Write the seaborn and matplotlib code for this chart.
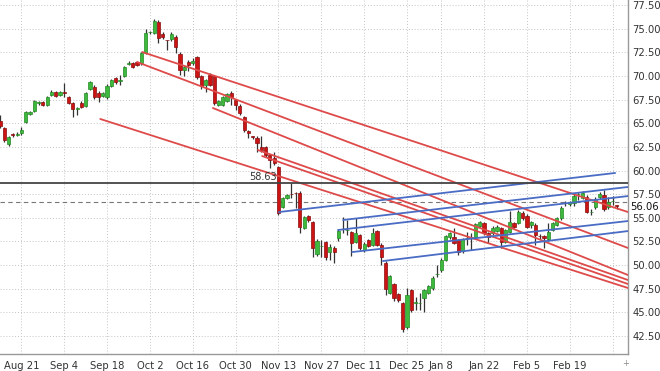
import matplotlib
matplotlib.use("Agg")
import matplotlib.pyplot as plt
import seaborn as sns
import numpy as np
import pandas as pd

# daily candles, first one is 5 trading days before Aug 21
opens = [65.23, 64.49, 62.80, 63.80, 63.80, 63.96, 65.13, 65.97, 66.29, 67.10,
         67.24, 66.93, 67.98, 68.30, 67.98, 68.25, 67.77, 67.14, 66.50, 67.14,
         66.82, 68.62, 68.83, 68.20, 67.88, 67.77, 68.94, 69.78, 69.50, 70.00,
         71.30, 71.36, 71.47, 71.36, 72.42, 74.60, 74.54, 75.70, 74.43, 73.80,
         73.90, 74.12, 72.32, 70.63, 71.50, 71.36, 72.00, 69.99, 69.04, 70.10,
         69.99, 66.93, 66.93, 67.35, 68.20, 67.45, 66.82, 65.66, 64.18, 63.60,
         63.44, 62.49, 62.49, 61.64, 61.32, 60.37, 56.14, 57.09, 57.55, 57.62,
         57.62, 53.92, 55.19, 54.56, 51.20, 52.00, 52.44, 51.38, 51.81, 52.86,
         53.80, 53.70, 53.50, 52.44, 53.18, 51.59, 52.65, 52.12, 53.60, 52.12,
         50.22, 47.05, 48.00, 46.94, 45.99, 43.45, 47.37, 45.99, 45.98, 46.52,
         47.05, 47.58, 49.05, 49.48, 50.54, 52.97, 52.97, 52.65, 51.49, 52.85,
         52.95, 52.97, 54.13, 54.45, 53.39, 53.39, 53.60, 53.92, 52.44, 53.50,
         54.45, 54.45, 55.51, 55.19, 54.24, 54.24, 53.10, 53.07, 52.76, 53.71,
         54.24, 54.98, 56.54, 56.46, 56.56, 57.50, 57.09, 57.20, 55.60, 56.14,
         57.20, 57.41, 56.14, 56.75, 56.35]
highs = [65.87, 64.60, 63.70, 64.00, 64.10, 64.60, 66.30, 66.30, 67.50, 67.40,
         67.40, 67.90, 68.50, 68.40, 68.40, 69.25, 67.90, 67.20, 66.70, 67.30,
         68.30, 69.50, 69.00, 68.40, 68.30, 69.10, 69.70, 69.90, 70.10, 71.10,
         71.60, 71.50, 71.60, 72.50, 74.96, 74.80, 76.02, 75.90, 74.60, 73.85,
         74.60, 74.30, 72.50, 71.10, 71.68, 71.90, 72.10, 70.10, 69.70, 70.30,
         70.10, 67.50, 67.90, 68.20, 68.40, 67.60, 67.00, 65.80, 64.30, 63.70,
         63.60, 63.65, 62.60, 61.80, 61.96, 60.50, 57.20, 57.50, 58.68, 57.73,
         57.80, 55.20, 55.30, 54.70, 52.80, 52.65, 52.60, 52.20, 52.00, 53.80,
         55.08, 54.77, 53.60, 54.98, 53.30, 52.40, 52.80, 53.92, 53.70, 52.30,
         50.40, 49.00, 48.10, 47.10, 46.10, 47.58, 47.50, 46.63, 47.05, 47.50,
         47.90, 48.80, 50.01, 50.70, 53.20, 53.50, 53.92, 52.80, 52.90, 53.50,
         53.39, 54.50, 54.70, 54.60, 53.50, 54.10, 54.20, 54.00, 53.80, 55.72,
         54.60, 55.80, 55.70, 55.40, 54.70, 54.40, 53.30, 53.20, 54.45, 54.60,
         55.10, 56.20, 56.80, 56.80, 57.50, 57.73, 57.80, 57.40, 55.90, 57.20,
         57.70, 57.94, 57.20, 57.30, 56.40]
lows = [64.49, 63.01, 62.60, 63.50, 63.60, 63.80, 65.00, 65.90, 66.20, 66.90,
        66.80, 66.80, 67.90, 67.80, 67.90, 67.77, 67.00, 65.66, 65.90, 66.60,
        66.70, 68.50, 67.60, 67.24, 67.80, 67.60, 68.80, 69.20, 69.04, 69.90,
        71.20, 70.80, 71.00, 71.20, 72.30, 74.40, 74.40, 73.48, 73.90, 72.74,
        73.70, 72.42, 70.10, 70.00, 70.52, 71.20, 69.70, 68.60, 68.30, 68.90,
        66.90, 66.80, 66.80, 67.20, 66.93, 66.40, 65.90, 64.10, 63.40, 63.30,
        61.96, 61.96, 61.40, 60.26, 60.60, 55.30, 56.00, 57.00, 57.09, 56.03,
        53.39, 53.80, 54.60, 50.85, 51.00, 50.85, 50.54, 50.54, 50.22, 52.60,
        53.39, 53.18, 50.96, 52.30, 51.60, 51.40, 51.90, 52.00, 52.00, 50.01,
        46.84, 46.90, 46.20, 46.10, 42.92, 43.20, 45.00, 45.25, 45.25, 45.04,
        46.90, 47.40, 48.74, 49.30, 50.40, 52.80, 52.20, 51.07, 51.30, 52.12,
        51.59, 52.80, 54.00, 53.20, 52.33, 53.20, 53.50, 51.81, 52.30, 53.40,
        53.90, 54.30, 54.80, 53.90, 53.92, 52.12, 52.80, 51.81, 52.60, 53.60,
        54.10, 54.80, 56.30, 56.30, 56.20, 56.88, 57.00, 55.50, 55.30, 55.90,
        57.00, 55.70, 55.90, 56.40, 55.90]
closes = [64.71, 63.23, 63.54, 63.75, 63.90, 64.28, 66.19, 66.19, 67.35, 67.20,
          66.93, 67.77, 68.30, 67.88, 68.30, 68.15, 67.14, 66.50, 66.55, 66.72,
          68.20, 69.36, 67.77, 67.80, 68.20, 68.94, 69.57, 69.36, 69.60, 70.94,
          71.36, 70.94, 71.16, 72.42, 74.54, 74.65, 75.81, 74.01, 74.12, 73.75,
          74.43, 73.06, 70.63, 70.94, 71.20, 71.58, 69.89, 68.94, 69.57, 69.04,
          67.14, 67.35, 67.77, 68.09, 67.77, 66.93, 66.08, 64.28, 63.96, 63.55,
          62.91, 62.17, 61.64, 61.11, 60.79, 55.51, 57.09, 57.41, 57.50, 57.60,
          54.03, 55.08, 54.77, 51.81, 52.50, 52.02, 50.85, 51.91, 51.38, 53.60,
          53.82, 53.71, 52.33, 53.39, 51.81, 52.23, 52.02, 53.39, 52.12, 50.85,
          47.47, 48.84, 46.52, 46.31, 43.24, 46.84, 45.25, 46.00, 46.00, 47.37,
          47.79, 48.63, 49.10, 50.54, 53.07, 53.39, 52.33, 51.38, 52.76, 52.86,
          52.97, 54.34, 54.56, 53.39, 52.97, 53.92, 54.03, 52.44, 53.71, 54.56,
          54.03, 55.61, 54.98, 54.03, 54.56, 53.18, 53.07, 52.86, 53.50, 54.45,
          54.98, 56.04, 56.56, 56.67, 57.30, 57.51, 57.62, 55.61, 55.62, 56.98,
          57.52, 55.93, 56.67, 56.77, 56.25]
first_day = -5

date_labels = ["Aug 21", "Sep 4", "Sep 18", "Oct 2", "Oct 16", "Oct 30", "Nov 13",
               "Nov 27", "Dec 11", "Dec 25", "Jan 8", "Jan 22", "Feb 5", "Feb 19", ""]
date_days = [0, 10, 20, 30, 40, 50, 60, 70, 80, 90, 98, 108, 118, 128, 138]

# trend lines: start day, start price, end day, end price
red_lines = [
    (28.2, 72.53, 141.6, 55.61),
    (27.0, 71.47, 141.6, 51.81),
    (44.7, 66.61, 141.6, 48.95),
    (55.2, 62.17, 141.6, 48.42),
    (56.2, 61.53, 141.6, 48.00),
    (18.4, 65.45, 141.6, 47.58),
]
blue_lines = [
    (60.1, 55.61, 138.6, 59.74),
    (75.1, 54.77, 141.6, 58.26),
    (73.9, 53.71, 141.6, 57.30),
    (77.2, 51.38, 141.6, 54.66),
    (84.4, 50.43, 141.6, 53.60),
]
level_line = 58.72
level_text = "58.63"
last_line = 56.64
last_text = "56.06"

sns.set_style("white")
plt.rcParams["font.family"] = ["DejaVu Sans"]

fig = plt.figure(figsize=(6.6, 3.71), dpi=100)
ax = fig.add_axes([0, 0.0458, 0.9515, 0.9542])

df = pd.DataFrame({"open": opens, "high": highs, "low": lows, "close": closes})
df["day"] = np.arange(len(df)) + first_day
up = df["close"] >= df["open"]

# wicks
ax.vlines(df["day"], df["low"], df["high"], color="#333333", lw=0.9, zorder=3)
# bodies
body_lo = np.minimum(df["open"], df["close"])
body_h = np.maximum((df["close"] - df["open"]).abs(), 0.06)
ax.bar(df["day"][up], body_h[up], bottom=body_lo[up], width=0.75,
       color="#3dba3d", edgecolor="#238a23", lw=0.5, zorder=4)
ax.bar(df["day"][~up], body_h[~up], bottom=body_lo[~up], width=0.75,
       color="#cc1414", edgecolor="#8a0c0c", lw=0.5, zorder=4)

# trend lines through seaborn
rows = []
for i, (x0, y0, x1, y1) in enumerate(red_lines):
    rows += [("r%d" % i, "red", x0, y0), ("r%d" % i, "red", x1, y1)]
for i, (x0, y0, x1, y1) in enumerate(blue_lines):
    rows += [("b%d" % i, "blue", x0, y0), ("b%d" % i, "blue", x1, y1)]
lines = pd.DataFrame(rows, columns=["line", "kind", "day", "price"])
sns.lineplot(data=lines, x="day", y="price", units="line", hue="kind",
             estimator=None, sort=False, legend=False, lw=1.3, zorder=5,
             palette={"red": "#de4a4a", "blue": "#4a6cc4"}, ax=ax)

ax.axhline(level_line, color="#444444", lw=1.3, zorder=6)
ax.text(59.6, level_line + 0.1, level_text, ha="right", va="bottom",
        fontsize=7, color="#333333", zorder=6)
ax.axhline(last_line, color="#777777", lw=0.8, ls=(0, (4, 3)), zorder=2)

ax.set_xlim(-5.0, 141.6)
ax.set_ylim(40.6, 78.03)
ax.set_xticks(date_days)
ax.set_xticklabels(date_labels)
yt = np.arange(42.5, 77.6, 2.5)
ax.set_yticks(yt)
ax.set_yticklabels(["%.2f" % v for v in yt])
ax.yaxis.tick_right()
ax.tick_params(axis="both", labelsize=7.2, colors="#333333", length=0, pad=3)
ax.tick_params(axis="x", pad=5)
ax.grid(True, color="#c4c4c4", lw=0.7, ls=(0, (1, 2)))
ax.set_xlabel("")
ax.set_ylabel("")
for s in ["top", "left"]:
    ax.spines[s].set_visible(False)
for s in ["right", "bottom"]:
    ax.spines[s].set_color("#999999")
    ax.spines[s].set_linewidth(1.0)

fig.text(0.9545, 1 - 207 / 371, last_text, fontsize=7.2, color="#111111",
         va="center", ha="left")
fig.text(626 / 660, 1 - 363 / 371, "+", fontsize=6, color="#888888",
         ha="center", va="center")

fig.savefig("out.png", dpi=100)
